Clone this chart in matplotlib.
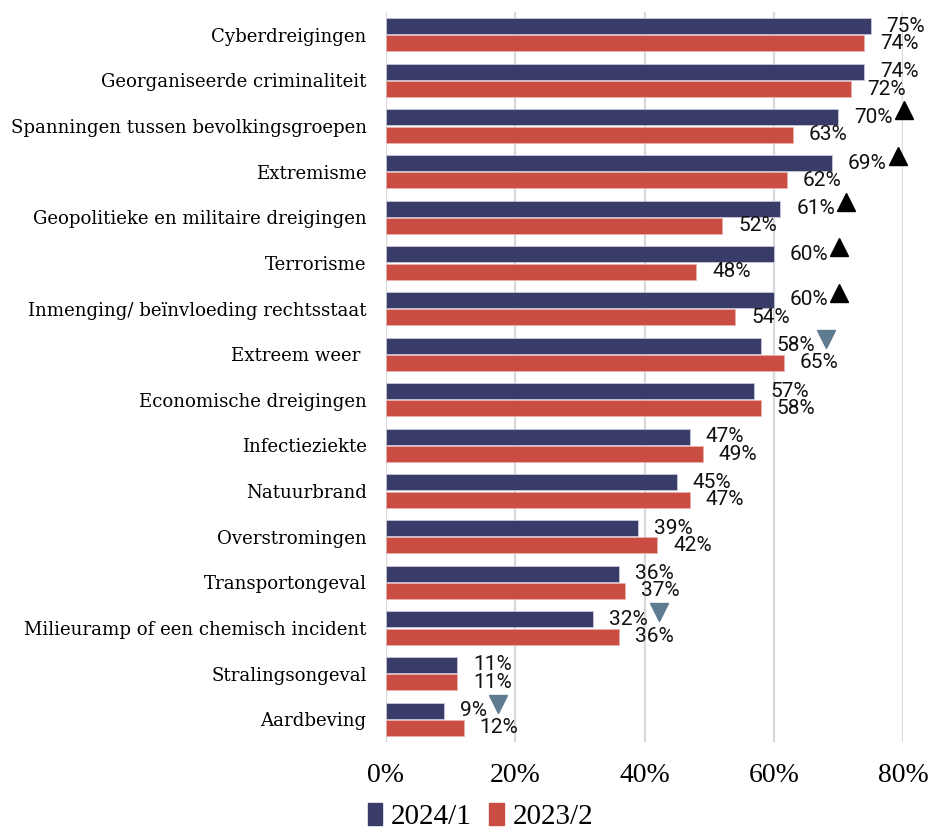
import numpy as np
import matplotlib
matplotlib.use('Agg')
import matplotlib.pyplot as plt
from matplotlib.patches import Patch


categories = ['Cyberdreigingen', 'Georganiseerde criminaliteit',
              'Spanningen tussen bevolkingsgroepen', 'Extremisme',
              'Geopolitieke en militaire dreigingen', 'Terrorisme',
              'Inmenging/ beïnvloeding rechtsstaat', 'Extreem weer ',
              'Economische dreigingen', 'Infectieziekte', 'Natuurbrand',
              'Overstromingen', 'Transportongeval',
              'Milieuramp of een chemisch incident', 'Stralingsongeval',
              'Aardbeving']
values_2024 = [75, 74, 70, 69, 61, 60, 60, 58, 57, 47, 45, 39, 36, 32, 11, 9]
values_2023 = [74, 72, 63, 62, 52, 48, 54, 61.6, 58, 49, 47, 42, 37, 36, 11, 12]
labels_2024 = ['75%', '74%', '70%', '69%', '61%', '60%', '60%', '58%', '57%',
               '47%', '45%', '39%', '36%', '32%', '11%', '9%']
labels_2023 = ['74%', '72%', '63%', '62%', '52%', '48%', '54%', '65%', '58%',
               '49%', '47%', '42%', '37%', '36%', '11%', '12%']
trend = ['', '', 'up', 'up', 'up', 'up', 'up', 'down', '', '', '', '', '',
         'down', '', 'down']
series = ['2024/1', '2023/2']
xticks = [0, 20, 40, 60, 80]

blue = '#393c69'
red = '#ca4d44'
down_col = '#5f7b90'

fig = plt.figure(figsize=(9.33, 8.38), dpi=100)
ax = fig.add_axes([386 / 933, 1 - 742 / 838, 517 / 933, 730 / 838])

y = np.arange(len(categories))
h = 0.35
ax.barh(y - 0.19, values_2024, height=h, color=blue, edgecolor='#c8c8dc', lw=0.6, zorder=3)
ax.barh(y + 0.19, values_2023, height=h, color=red, edgecolor='#e8b0ac', lw=0.6, zorder=3)

ax.set_xlim(0, 80)
ax.set_ylim(len(categories) - 0.5, -0.5)
ax.set_xticks(xticks)
ax.set_xticklabels([f'{t}%' for t in xticks], fontfamily='Liberation Serif', fontsize=20)
ax.set_yticks(y)
ax.set_yticklabels(categories, fontfamily='DejaVu Serif', fontsize=13.1)
ax.tick_params(axis='x', length=0, pad=15)
ax.tick_params(axis='y', length=0, pad=14)
for s in ax.spines.values():
    s.set_visible(False)
ax.grid(axis='x', color='#d9d9d9', lw=1.6, zorder=0)

blue_txt = []
for i in range(len(categories)):
    t = ax.annotate(labels_2024[i], xy=(values_2024[i], i - 0.19), xytext=(11.5, 0),
                    textcoords='offset points', va='center', ha='left',
                    fontfamily='Roboto', fontsize=15, color='#111111', annotation_clip=False)
    blue_txt.append(t)
    ax.annotate(labels_2023[i], xy=(values_2023[i], i + 0.19), xytext=(11.5, 0),
                textcoords='offset points', va='center', ha='left',
                fontfamily='Roboto', fontsize=15, color='#111111', annotation_clip=False)

# trend markers just right of the 2024 label
fig.canvas.draw()
renderer = fig.canvas.get_renderer()
inv = ax.transData.inverted()
for i, tr in enumerate(trend):
    if not tr:
        continue
    bb = blue_txt[i].get_window_extent(renderer)
    yd = ax.transData.transform((0, i - 0.19))[1] + 7
    xm, ym = inv.transform((bb.x1 + 11, yd))
    if tr == 'up':
        ax.plot(xm, ym, marker='^', ms=13.5, color='black', clip_on=False, zorder=4)
    else:
        ax.plot(xm, ym, marker='v', ms=13.5, color=down_col, clip_on=False, zorder=4)

handles = [Patch(color=blue), Patch(color=red)]
fig.legend(handles, series, loc='lower center', bbox_to_anchor=(0.515, -0.022), ncol=2,
           frameon=False, prop={'family': 'Liberation Serif', 'size': 21},
           handlelength=0.5, handleheight=0.8, handletextpad=0.3, columnspacing=0.6)

plt.savefig('out.png', dpi=100)
